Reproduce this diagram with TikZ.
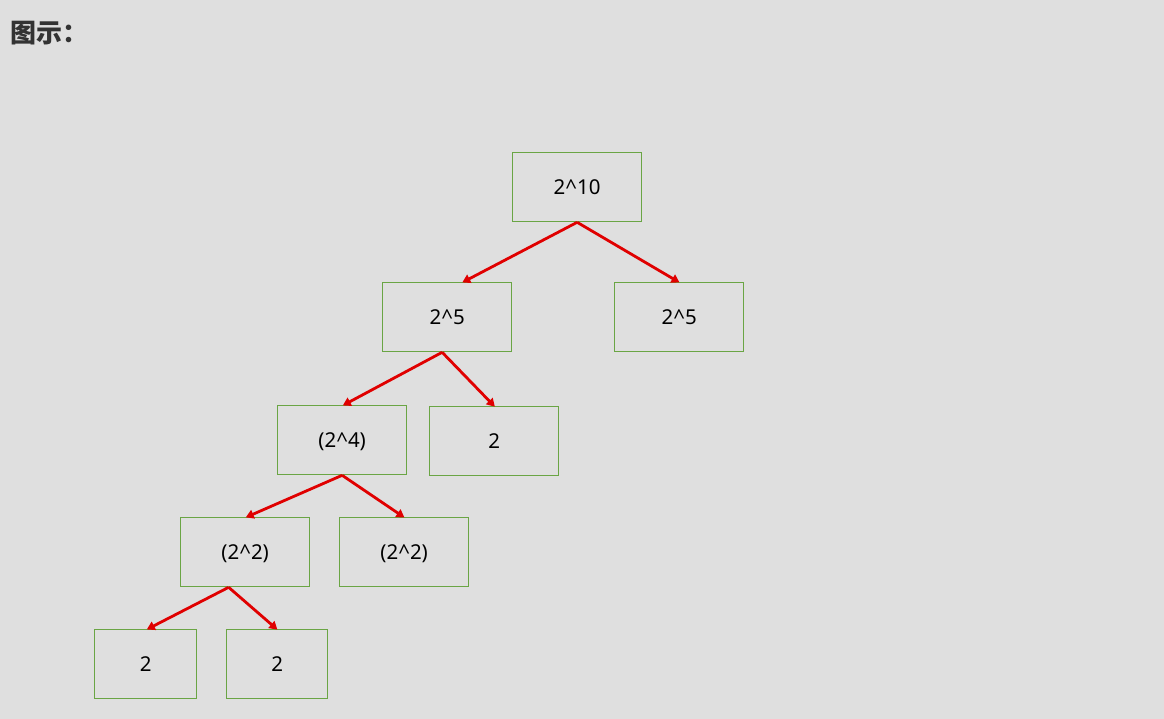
\documentclass[tikz,border=0pt]{standalone}
\usepackage{fontspec}
\setmainfont{Noto Sans}
\newfontfamily\cjk{Noto Sans CJK SC}
\usetikzlibrary{arrows.meta,calc}
\definecolor{bg}{HTML}{DFDFDF}
\definecolor{boxgreen}{HTML}{6AA544}
\definecolor{arrred}{HTML}{E00000}
\definecolor{titlegray}{HTML}{333333}
\tikzset{
  tbox/.style={draw=boxgreen, line width=1.3pt, minimum width=129pt, minimum height=69pt, inner sep=0pt, text depth=0pt, font=\fontsize{20.5}{24}\selectfont, anchor=north west},
  sbox/.style={tbox, minimum width=102pt},
  link/.style={draw=arrred, line width=2.8pt, -{Triangle[length=8pt,width=9pt]}, shorten >=-1pt}
}
\begin{document}
\begin{tikzpicture}[x=1pt,y=-1pt]
\fill[bg] (0,0) rectangle (1164,719);
\useasboundingbox (0,0) rectangle (1164,719);
\node[anchor=west, text=titlegray, font=\cjk\bfseries\fontsize{26}{28}\selectfont, inner sep=0pt] (title) at (10,33) {图示：};
\node[tbox] (A) at (512,152) {2\^{}10};
\node[tbox] (B) at (382,282) {2\^{}5};
\node[tbox] (C) at (614,282) {2\^{}5};
\node[tbox] (D) at (277,405) {(2\^{}4)};
\node[tbox] (E) at (429,406) {2};
\node[tbox] (F) at (180,517) {(2\^{}2)};
\node[tbox] (G) at (339,517) {(2\^{}2)};
\node[sbox] (H) at (94,629) {2};
\node[sbox, minimum width=101pt] (I) at (226,629) {2};
\draw[link] (A.south) -- ([xshift=16pt]B.north);
\draw[link] (A.south) -- ([xshift=-0.5pt]C.north);
\draw[link] ([xshift=-5pt]B.south) -- ([xshift=1.5pt]D.north);
\draw[link] ([xshift=-5pt]B.south) -- (E.north);
\draw[link] (D.south) -- ([xshift=1.5pt]F.north);
\draw[link] (D.south) -- ([xshift=-0.5pt]G.north);
\draw[link] ([xshift=-16.5pt]F.south) -- ([xshift=2pt]H.north);
\draw[link] ([xshift=-16.5pt]F.south) -- ([xshift=-0.5pt]I.north);
\end{tikzpicture}
\end{document}
